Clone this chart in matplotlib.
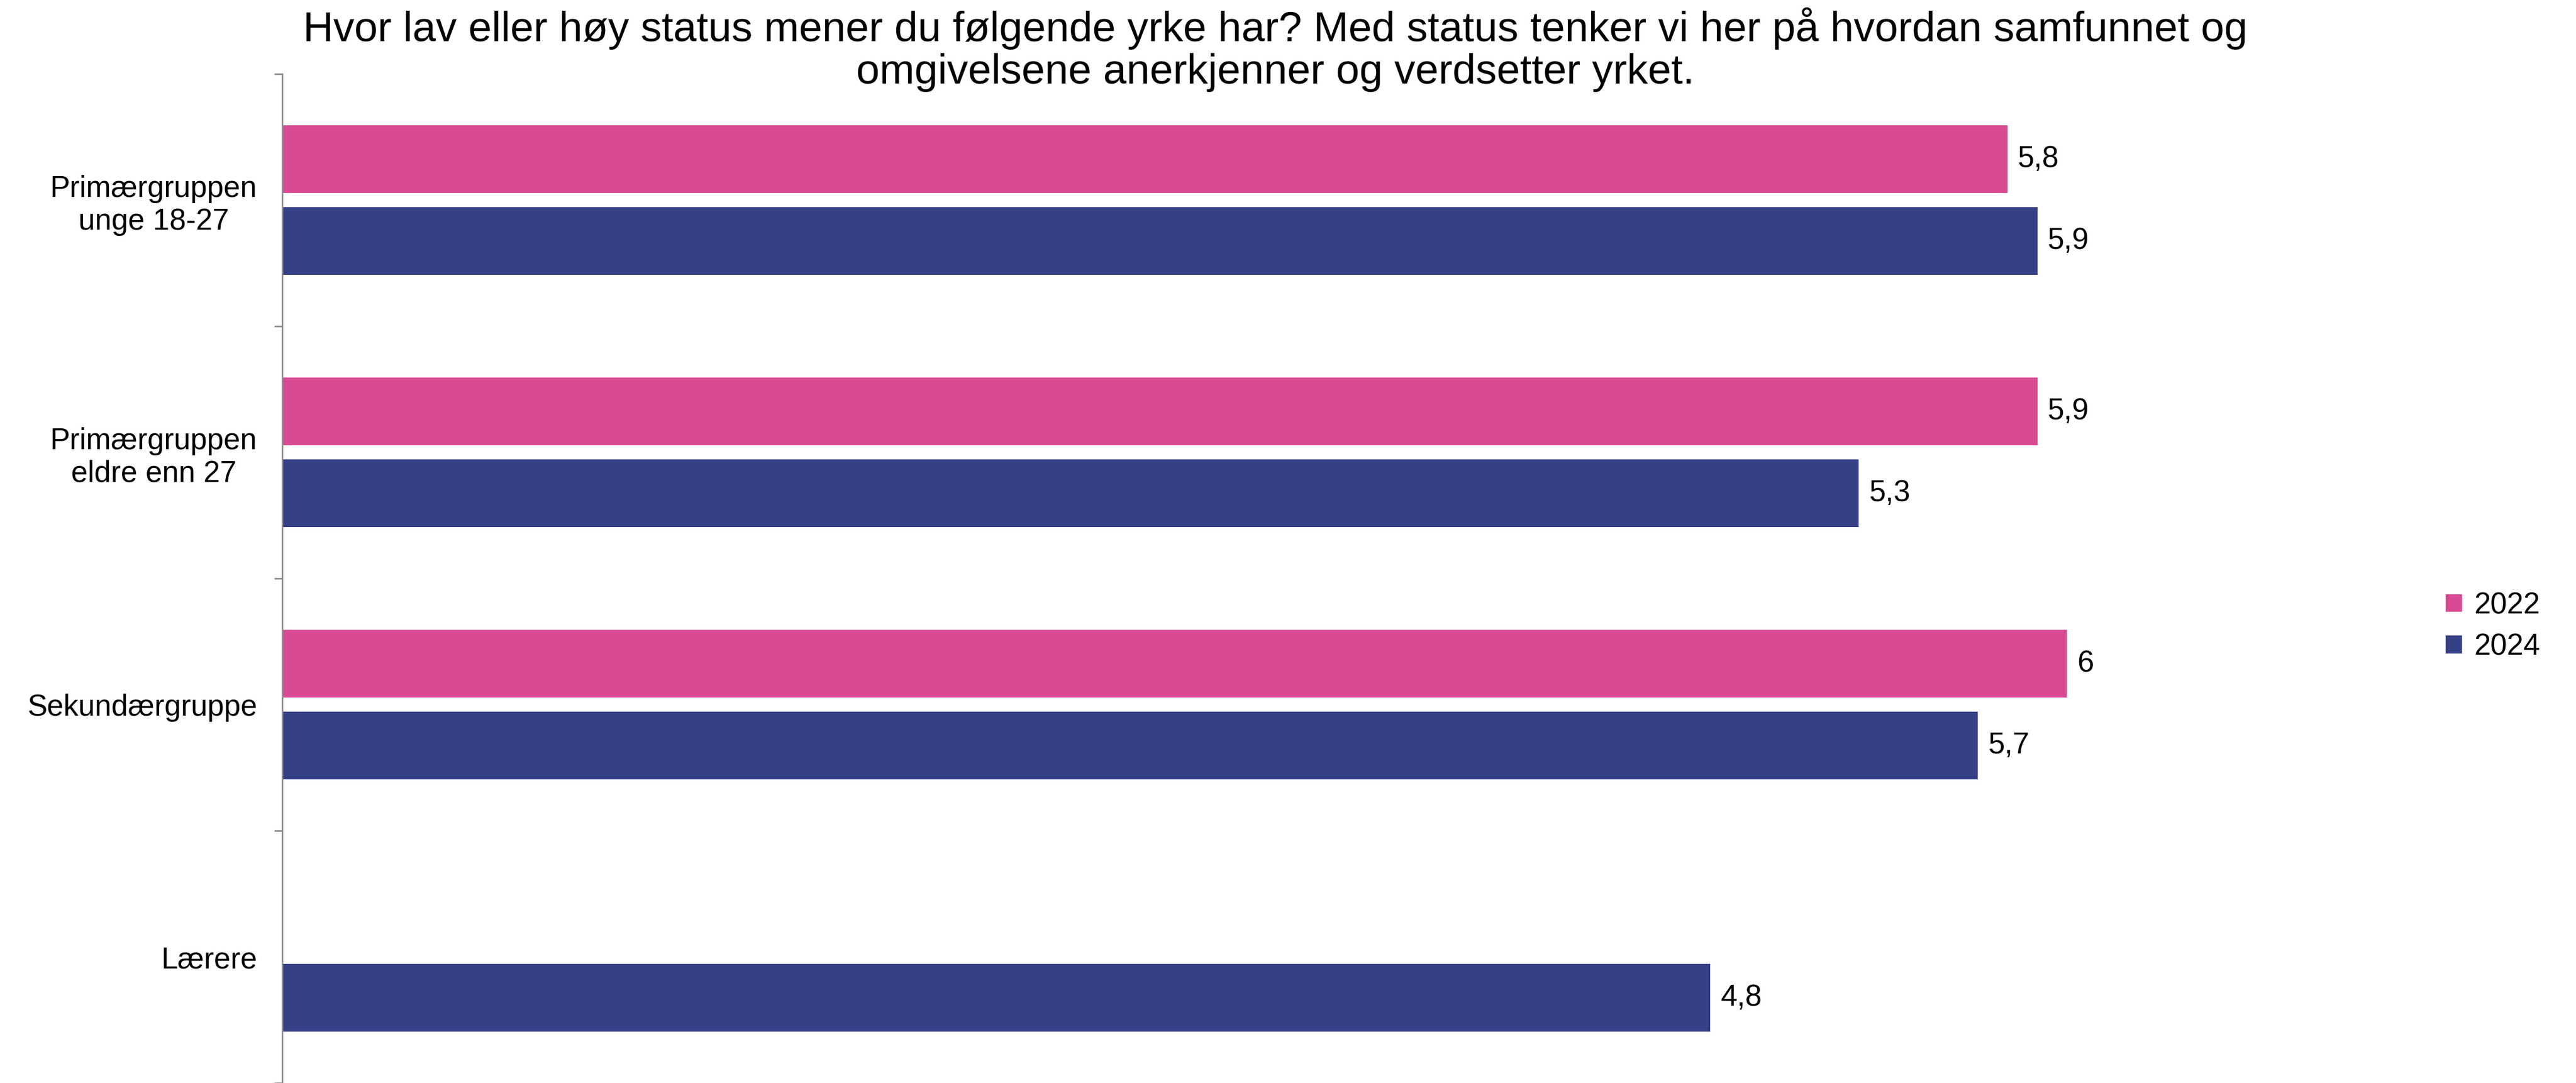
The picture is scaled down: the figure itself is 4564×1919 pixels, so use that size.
import numpy as np
import matplotlib.pyplot as plt

plt.rcParams['font.family'] = ['Liberation Sans', 'DejaVu Sans']

categories = ['Primærgruppen\nunge 18-27', 'Primærgruppen\neldre enn 27', 'Sekundærgruppe', 'Lærere']
years = ['2022', '2024']
v2022 = [5.8, 5.9, 6.0, np.nan]
v2024 = [5.9, 5.3, 5.7, 4.8]
colors = ['#D84B93', '#364087']

title = ('Hvor lav eller høy status mener du følgende yrke har? Med status tenker vi her på hvordan samfunnet og\n'
         'omgivelsene anerkjenner og verdsetter yrket.')

def fmt(v):
    s = ('%.1f' % v).rstrip('0').rstrip('.')
    return s.replace('.', ',')

fig = plt.figure(figsize=(45.64, 19.19), dpi=100)
ax = fig.add_axes([0.1096, 0.0, 0.8083, 0.9317])

y = np.arange(len(categories))
h = 0.267
off = 0.162
for vals, d, c, lab in [(v2022, -off, colors[0], years[0]), (v2024, off, colors[1], years[1])]:
    bars = ax.barh(y + d, vals, height=h, color=c, label=lab)
    for b, v in zip(bars, vals):
        if np.isnan(v):
            continue
        ax.text(v + 0.035, b.get_y() + b.get_height() / 2, fmt(v),
                va='center', ha='left', fontsize=38)

ax.set_xlim(0, 7)
ax.set_ylim(len(categories) - 0.5, -0.5)
ax.set_yticks(y)
ax.set_yticklabels(categories, fontsize=38)
for t in ax.get_yticklabels():
    t.set_multialignment('center')
ax.set_yticks(np.arange(len(categories) + 1) - 0.5, minor=True)
ax.tick_params(axis='y', which='major', length=0, pad=32)
ax.tick_params(axis='y', which='minor', length=10, width=2, color='#8C8C8C')
ax.set_xticks([])
for s in ['top', 'right', 'bottom']:
    ax.spines[s].set_visible(False)
ax.spines['left'].set_color('#8C8C8C')
ax.spines['left'].set_linewidth(2)

fig.text(0.495, 0.993, title, ha='center', va='top', fontsize=53.5, linespacing=1.1)

fig.legend(loc='center left', bbox_to_anchor=(0.939, 0.4216), frameon=False,
           fontsize=38, handlelength=0.55, handleheight=0.55, handletextpad=0.4,
           labelspacing=0.45)

fig.savefig('out.png', dpi=100)
